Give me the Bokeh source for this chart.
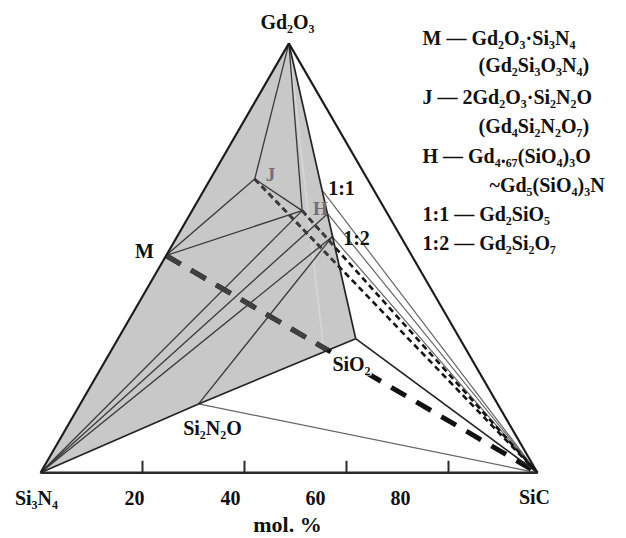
from bokeh.plotting import figure
from bokeh.models import Range1d
from bokeh.core.properties import value
from bokeh.embed import file_html
from bokeh.resources import INLINE

# ---------------- data ----------------
# phase positions: u = mol.% along Si3N4-SiC, v = height (same units)
phase_names = ["Si3N4", "SiC", "Gd2O3", "SiO2", "Si2N2O", "M", "J", "H", "1:1", "H'", "1:2", "X"]
phase_u = [0.0, 97.45, 48.7, 61.8, 31.0, 24.6, 42.0, 51.3, 55.4, 56.3, 57.2, 55.5]
phase_v = [0.0, 0.0, 84.2, 26.3, 13.5, 42.6, 57.6, 51.4, 55.2, 50.8, 46.3, 24.4]

tick_values = [20, 40, 60, 80]
tick_labels = ["20", "40", "60", "80"]

shaded_face = ["Si3N4", "Gd2O3", "SiO2", "Si2N2O"]
outer_edges = [("Si3N4", "Gd2O3"), ("Gd2O3", "SiC")]
face_edges = [("Gd2O3", "SiO2"), ("SiO2", "SiC"), ("Si3N4", "Si2N2O"), ("Si2N2O", "SiO2")]
tie_dark = [("Gd2O3", "J"), ("Gd2O3", "H"), ("M", "J"), ("M", "H"), ("J", "H"),
            ("Si3N4", "H"), ("Si3N4", "H'"), ("Si3N4", "1:2"), ("Si2N2O", "1:2")]
tie_grey = [("SiC", "1:1"), ("SiC", "H'"), ("SiC", "1:2"), ("Si2N2O", "SiC")]
tie_faint = [("Gd2O3", "X")]
# dashed joins, with the face edge where each leaves the shaded face
dash_thick = [("M", "SiC", ("Si2N2O", "SiO2"))]
dash_thin = [("J", "SiC", ("Gd2O3", "SiO2")), ("H", "SiC", ("Gd2O3", "SiO2"))]

legend_lines = [
    "M — Gd₂O₃·Si₃N₄",
    "(Gd₂Si₃O₃N₄)",
    "J  — 2Gd₂O₃·Si₂N₂O",
    "(Gd₄Si₂N₂O₇)",
    "H — Gd₄.₆₇(SiO₄)₃O",
    "~Gd₅(SiO₄)₃N",
    "1:1 — Gd₂SiO₅",
    "1:2 — Gd₂Si₂O₇",
]

# ---------------- layout ----------------
W, H = 626, 538
SCALE = 5.1           # px per unit
X0, Y0 = 40.0, 472.3  # pixel position of the Si3N4 corner


def ux(px):
    return (px - X0) / SCALE


def vy(py):
    return (Y0 - py) / SCALE


P = dict(zip(phase_names, zip(phase_u, phase_v)))


def intersect(a, b, c, d):
    (x1, y1), (x2, y2), (x3, y3), (x4, y4) = P[a], P[b], P[c], P[d]
    den = (x1 - x2) * (y3 - y4) - (y1 - y2) * (x3 - x4)
    t = ((x1 - x3) * (y3 - y4) - (y1 - y3) * (x3 - x4)) / den
    return x1 + t * (x2 - x1), y1 + t * (y2 - y1)


p = figure(width=W, height=H, output_backend="svg", toolbar_location=None,
           x_range=Range1d(ux(0), ux(W)), y_range=Range1d(vy(H), vy(0)),
           min_border=0)
p.axis.visible = False
p.grid.visible = False
p.outline_line_color = None
p.background_fill_color = "white"
p.border_fill_color = "white"

FONT = value("Liberation Serif")


def seg(pairs, **kw):
    p.segment([P[a][0] for a, b in pairs], [P[a][1] for a, b in pairs],
              [P[b][0] for a, b in pairs], [P[b][1] for a, b in pairs], **kw)


def dashed(items, inner_color, outer_color, **kw):
    for a, b, (c, d) in items:
        p.line([P[a][0], P[b][0]], [P[a][1], P[b][1]], line_color=outer_color, **kw)
        xi, yi = intersect(a, b, c, d)
        p.line([P[a][0], xi], [P[a][1], yi], line_color=inner_color, **kw)


# shaded Gd-Si-O-N face
p.patch([P[n][0] for n in shaded_face], [P[n][1] for n in shaded_face],
        fill_color="#c8c8c8", line_color=None)

seg(tie_faint, line_color="#d6d6d6", line_width=1.6)
seg(tie_grey, line_color="#666666", line_width=1.2)
seg(tie_dark, line_color="#383838", line_width=1.3)

dashed(dash_thin, "#3c3c3c", "#141414", line_width=2.6, line_dash="6 4")
dashed(dash_thick, "#404040", "#111111", line_width=5, line_dash="17 12")

# SiO2 label masks the dashed line beneath it
p.text(x=[ux(351)], y=[vy(363)], text=["SiO₂"],
       text_font=FONT, text_font_style="bold", text_font_size="20px",
       text_align="center", text_baseline="middle", text_color="#111111",
       background_fill_color="white", padding=1)

seg(face_edges, line_color="#222222", line_width=1.7)
seg(outer_edges, line_color="#1a1a1a", line_width=2.1)

# base axis with ticks
p.segment([P["Si3N4"][0]], [0], [P["SiC"][0]], [0], line_color="#2a2a2a", line_width=2.6)
p.segment(tick_values, [0] * 4, tick_values, [12 / SCALE] * 4,
          line_color="#2a2a2a", line_width=2)

# tick labels (drawn slightly left of their ticks, as in the original)
tick_label_px = [134, 230, 315, 400]
p.text(x=[ux(x) for x in tick_label_px], y=[vy(497)] * 4, text=tick_labels,
       text_font=FONT, text_font_style="bold", text_font_size="20px",
       text_align="center", text_baseline="middle", text_color="#111111")

p.text(x=[ux(287)], y=[vy(524)], text=["mol. %"],
       text_font=FONT, text_font_style="bold", text_font_size="22px",
       text_align="center", text_baseline="middle", text_color="#111111")

# phase labels
lab_text = ["Gd₂O₃", "Si₃N₄", "SiC", "M", "1:1", "1:2", "Si₂N₂O"]
lab_px = [(287, 21), (36, 497), (534, 496), (144, 250), (341, 187), (356, 237),
          (212, 427)]
p.text(x=[ux(a) for a, b in lab_px], y=[vy(b) for a, b in lab_px], text=lab_text,
       text_font=FONT, text_font_style="bold", text_font_size="20px",
       text_align="center", text_baseline="middle", text_color="#111111")

grey_text = ["J", "H"]
grey_px = [(270, 174), (320, 208)]
p.text(x=[ux(a) for a, b in grey_px], y=[vy(b) for a, b in grey_px], text=grey_text,
       text_font=FONT, text_font_style="bold", text_font_size="19px",
       text_align="center", text_baseline="middle", text_color="#707070")

# legend on the right
leg_x_px = [422, 478, 422, 478, 422, 489, 422, 422]
leg_y_px = [37, 64, 96, 125, 155, 184, 213, 242]
p.text(x=[ux(a) for a in leg_x_px], y=[vy(b) for b in leg_y_px], text=legend_lines,
       text_font=FONT, text_font_style="bold", text_font_size="20px",
       text_align="left", text_baseline="middle", text_color="#111111")

open("out.html", "w").write(file_html(p, INLINE))
